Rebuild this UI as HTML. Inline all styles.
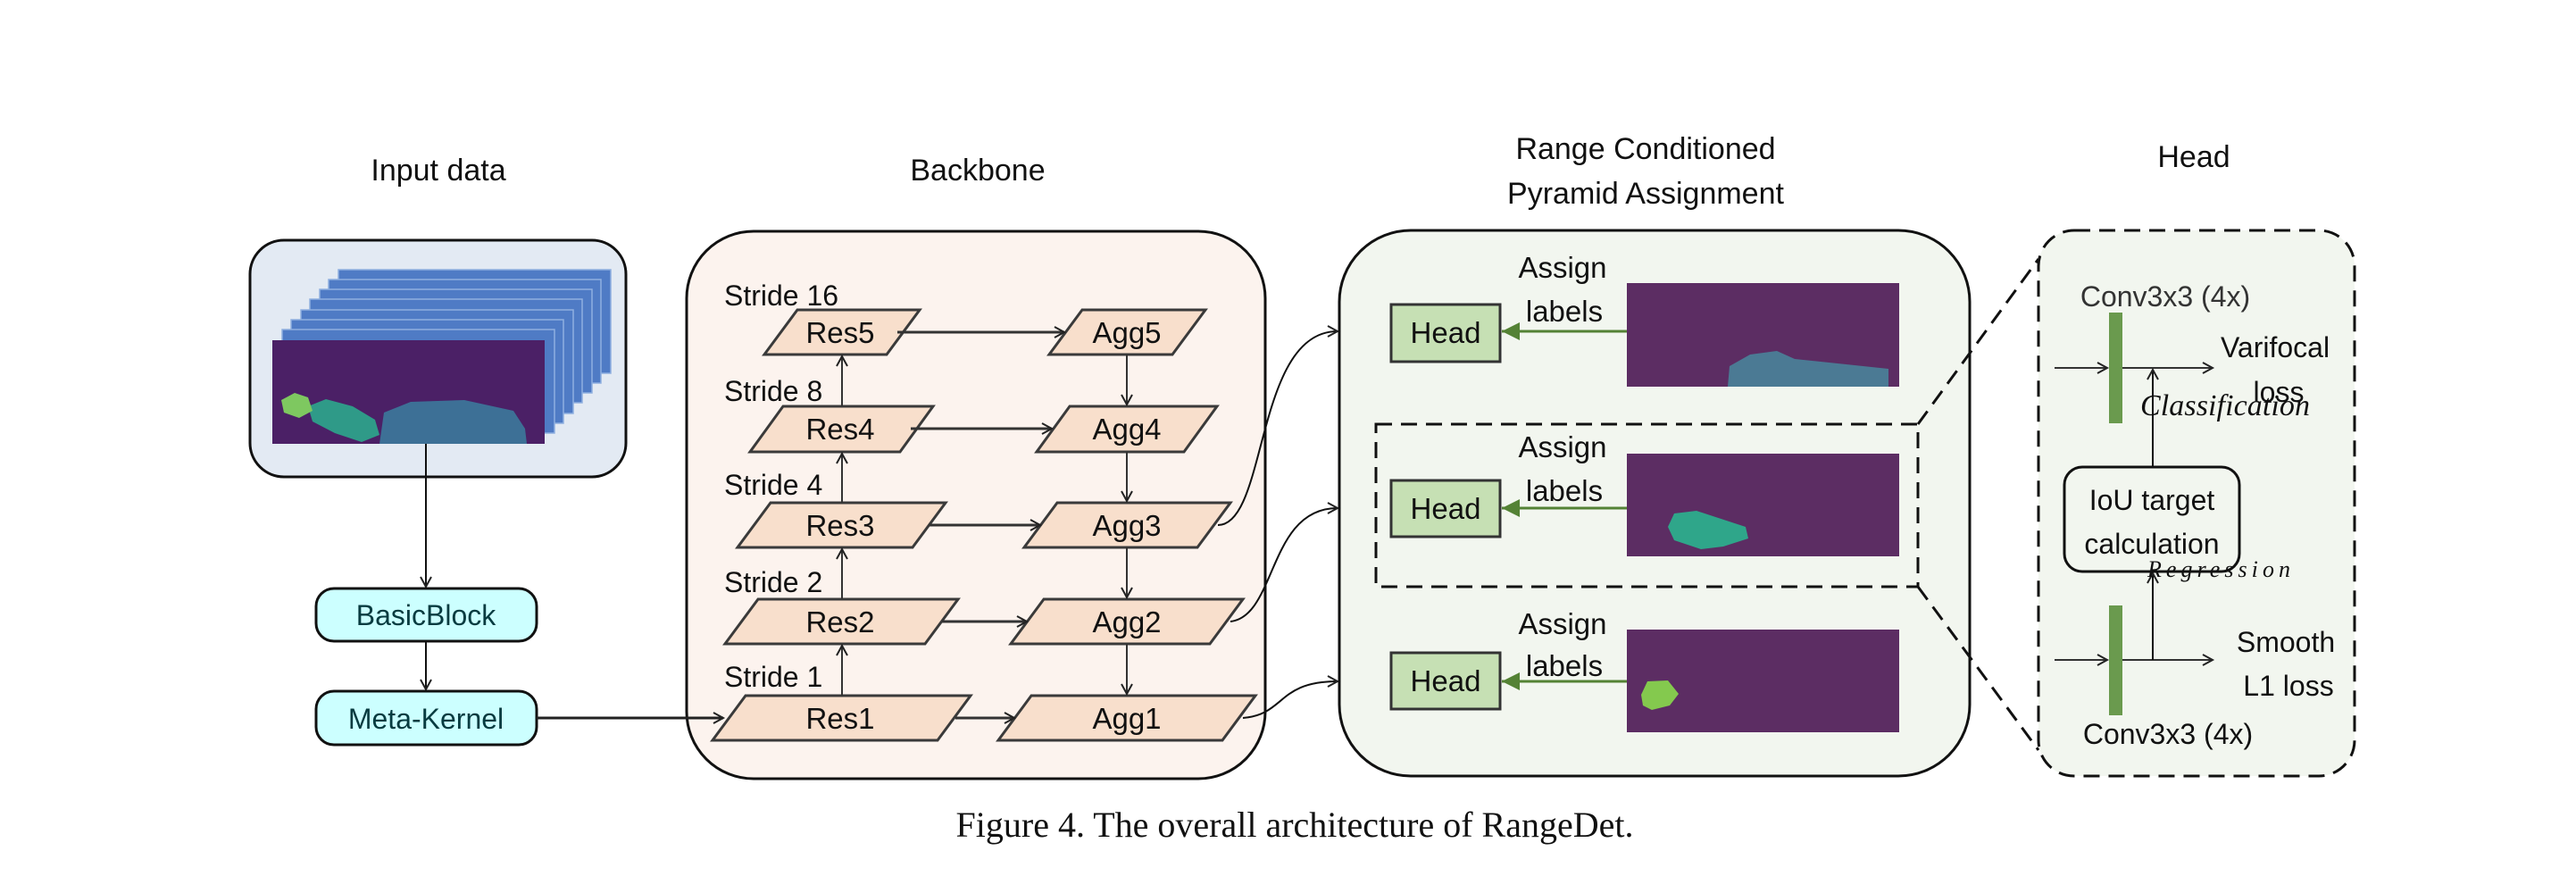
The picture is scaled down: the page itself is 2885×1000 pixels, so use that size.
<!DOCTYPE html>
<html><head><meta charset="utf-8"><style>
html,body{margin:0;padding:0;background:#fff;}
svg{display:block;}
text{font-family:"Liberation Sans",sans-serif;fill:#111;}
</style></head><body>
<svg width="2885" height="1000" viewBox="0 0 2885 1000" xmlns="http://www.w3.org/2000/svg">
<defs>
<marker id="ar" markerWidth="16" markerHeight="16" refX="13" refY="8" orient="auto" markerUnits="userSpaceOnUse">
<path d="M2,2 L13,8 L2,14" fill="none" stroke="#222" stroke-width="2"/>
</marker>
<marker id="ga" markerWidth="26" markerHeight="26" refX="22" refY="13" orient="auto" markerUnits="userSpaceOnUse">
<path d="M2,3 L22,13 L2,23 Z" fill="#548235"/>
</marker>
</defs>

<!-- Titles -->
<text x="491" y="202" font-size="34" text-anchor="middle">Input data</text>
<text x="1095" y="202" font-size="34" text-anchor="middle">Backbone</text>
<text x="1843" y="178" font-size="34" text-anchor="middle">Range Conditioned</text>
<text x="1843" y="228" font-size="34" text-anchor="middle">Pyramid Assignment</text>
<text x="2457" y="187" font-size="34" text-anchor="middle">Head</text>

<!-- Input box -->
<rect x="280" y="269" width="421" height="265" rx="38" fill="#e3eaf3" stroke="#111" stroke-width="3"/>
<g fill="#4f7bc5" stroke="#8fb0e0" stroke-width="1.5">
<rect x="379" y="302" width="305" height="116"/>
<rect x="368" y="313" width="305" height="116"/>
<rect x="358" y="324" width="305" height="116"/>
<rect x="347" y="335" width="305" height="116"/>
<rect x="337" y="347" width="305" height="116"/>
<rect x="326" y="358" width="305" height="116"/>
<rect x="316" y="369" width="305" height="116"/>
</g>
<rect x="305" y="381" width="305" height="116" fill="#4b2066"/>
<path d="M425,497 L430,462 L460,450 L520,448 L575,460 L588,480 L590,497 Z" fill="#3d7096"/>
<path d="M345,455 L365,447 L395,455 L420,470 L425,487 L405,495 L375,485 L350,472 Z" fill="#2f9a88"/>
<path d="M315,448 L330,440 L345,445 L350,460 L335,468 L318,462 Z" fill="#7ec860"/>
<line x1="477" y1="497" x2="477" y2="657" stroke="#111" stroke-width="2" marker-end="url(#ar)"/>

<!-- BasicBlock / Meta-Kernel -->
<rect x="354" y="659" width="247" height="59" rx="20" fill="#ccffff" stroke="#111" stroke-width="3"/>
<text x="477" y="700" font-size="32" text-anchor="middle" style="fill:#073b40">BasicBlock</text>
<line x1="477" y1="718" x2="477" y2="772" stroke="#111" stroke-width="2" marker-end="url(#ar)"/>
<rect x="354" y="774" width="247" height="60" rx="20" fill="#ccffff" stroke="#111" stroke-width="3"/>
<text x="477" y="816" font-size="32" text-anchor="middle" style="fill:#073b40">Meta-Kernel</text>

<!-- Backbone -->
<rect x="769" y="259" width="648" height="613" rx="75" fill="#fcf3ee" stroke="#111" stroke-width="3"/>
<line x1="601" y1="804" x2="810" y2="804" stroke="#222" stroke-width="3" marker-end="url(#ar)"/>
<g font-size="32">
<text x="811" y="342">Stride 16</text>
<text x="811" y="449">Stride 8</text>
<text x="811" y="554">Stride 4</text>
<text x="811" y="663">Stride 2</text>
<text x="811" y="769">Stride 1</text>
</g>
<g fill="#f8dfcc" stroke="#3a3a3a" stroke-width="3">
<polygon points="893,347 1030,347 993,397 856,397"/>
<polygon points="877,455 1045,455 1008,506 840,506"/>
<polygon points="863,563 1059,563 1022,613 826,613"/>
<polygon points="849,671 1073,671 1036,721 812,721"/>
<polygon points="835,779 1087,779 1050,829 798,829"/>
<polygon points="1212,347 1350,347 1313,397 1175,397"/>
<polygon points="1198,455 1363,455 1326,506 1161,506"/>
<polygon points="1184,563 1378,563 1341,613 1147,613"/>
<polygon points="1169,671 1392,671 1355,721 1132,721"/>
<polygon points="1155,779 1406,779 1369,829 1118,829"/>
</g>
<g font-size="33" text-anchor="middle">
<text x="941" y="384">Res5</text>
<text x="941" y="492">Res4</text>
<text x="941" y="600">Res3</text>
<text x="941" y="708">Res2</text>
<text x="941" y="816">Res1</text>
<text x="1262" y="384">Agg5</text>
<text x="1262" y="492">Agg4</text>
<text x="1262" y="600">Agg3</text>
<text x="1262" y="708">Agg2</text>
<text x="1262" y="816">Agg1</text>
</g>
<g stroke="#333" stroke-width="2" fill="none" marker-end="url(#ar)">
<line x1="943" y1="779" x2="943" y2="723"/>
<line x1="943" y1="671" x2="943" y2="615"/>
<line x1="943" y1="563" x2="943" y2="508"/>
<line x1="943" y1="455" x2="943" y2="399"/>
<line x1="1262" y1="397" x2="1262" y2="453"/>
<line x1="1262" y1="506" x2="1262" y2="561"/>
<line x1="1262" y1="613" x2="1262" y2="669"/>
<line x1="1262" y1="721" x2="1262" y2="777"/>
</g>
<g stroke="#333" stroke-width="3" fill="none" marker-end="url(#ar)">
<line x1="1005" y1="372" x2="1192" y2="372"/>
<line x1="1020" y1="480" x2="1178" y2="480"/>
<line x1="1040" y1="588" x2="1165" y2="588"/>
<line x1="1055" y1="696" x2="1150" y2="696"/>
<line x1="1070" y1="804" x2="1136" y2="804"/>
</g>
<g stroke="#111" stroke-width="2" fill="none" marker-end="url(#ar)">
<path d="M1364,588 C1420,588 1405,371 1498,371"/>
<path d="M1378,696 C1430,690 1420,569 1498,569"/>
<path d="M1392,804 C1440,800 1430,763 1498,763"/>
</g>

<!-- RCPA -->
<rect x="1500" y="258" width="706" height="611" rx="80" fill="#f2f6ef" stroke="#111" stroke-width="3"/>
<rect x="1541" y="475" width="607" height="182" fill="none" stroke="#111" stroke-width="3" stroke-dasharray="18,10"/>
<g font-size="33" text-anchor="middle">
<text x="1750" y="311">Assign</text><text x="1752" y="360">labels</text>
<text x="1750" y="512">Assign</text><text x="1752" y="561">labels</text>
<text x="1750" y="710">Assign</text><text x="1752" y="757">labels</text>
</g>
<g fill="#c6e0b4" stroke="#333" stroke-width="3">
<rect x="1558" y="341" width="122" height="64"/>
<rect x="1558" y="538" width="122" height="63"/>
<rect x="1558" y="731" width="122" height="63"/>
</g>
<g font-size="33" text-anchor="middle">
<text x="1619" y="384">Head</text><text x="1619" y="581">Head</text><text x="1619" y="774">Head</text>
</g>
<g stroke="#548235" stroke-width="3" marker-end="url(#ga)">
<line x1="1822" y1="371" x2="1682" y2="371"/>
<line x1="1822" y1="569" x2="1682" y2="569"/>
<line x1="1822" y1="763" x2="1682" y2="763"/>
</g>
<g fill="#5c2d63">
<rect x="1822" y="317" width="305" height="116"/>
<rect x="1822" y="508" width="305" height="115"/>
<rect x="1822" y="705" width="305" height="115"/>
</g>
<path d="M1935,433 L1937,410 L1960,397 L1990,393 L2010,402 L2115,413 L2115,433 Z" fill="#4b7a94"/>
<path d="M1868,590 L1875,575 L1900,572 L1955,590 L1958,603 L1930,612 L1905,615 L1875,605 Z" fill="#2fa68a"/>
<path d="M1838,778 L1845,763 L1868,762 L1880,777 L1870,790 L1850,795 L1840,790 Z" fill="#84c94e"/>

<!-- zoom lines -->
<g stroke="#111" stroke-width="3" stroke-dasharray="18,10" fill="none">
<line x1="2148" y1="475" x2="2283" y2="290"/>
<line x1="2148" y1="657" x2="2283" y2="840"/>
</g>

<!-- Head detail -->
<rect x="2283" y="258" width="354" height="611" rx="40" fill="#f2f6ef" stroke="#111" stroke-width="3" stroke-dasharray="18,10"/>
<text x="2425" y="343" font-size="32" text-anchor="middle" style="fill:#333">Conv3x3 (4x)</text>
<text x="2428" y="833" font-size="32" text-anchor="middle">Conv3x3 (4x)</text>
<rect x="2362" y="350" width="15" height="124" fill="#6a9a4e"/>
<rect x="2362" y="678" width="15" height="123" fill="#6a9a4e"/>
<g stroke="#333" stroke-width="2" fill="none">
<line x1="2301" y1="412" x2="2360" y2="412" marker-end="url(#ar)"/>
<line x1="2377" y1="412" x2="2478" y2="412" marker-end="url(#ar)"/>
<line x1="2301" y1="739" x2="2360" y2="739" marker-end="url(#ar)"/>
<line x1="2377" y1="739" x2="2478" y2="739" marker-end="url(#ar)"/>
<line x1="2411" y1="523" x2="2411" y2="414" marker-end="url(#ar)" stroke="#111"/>
<line x1="2411" y1="739" x2="2411" y2="642" marker-end="url(#ar)" stroke="#111"/>
</g>
<rect x="2312" y="523" width="196" height="117" rx="20" fill="#f2f6ef" stroke="#111" stroke-width="3"/>
<text x="2410" y="571" font-size="32" text-anchor="middle">IoU target</text>
<text x="2410" y="620" font-size="32" text-anchor="middle">calculation</text>
<text x="2548" y="400" font-size="32" text-anchor="middle">Varifocal</text>
<text x="2552" y="450" font-size="32" text-anchor="middle">loss</text>
<text x="2560" y="730" font-size="32" text-anchor="middle">Smooth</text>
<text x="2563" y="779" font-size="32" text-anchor="middle">L1 loss</text>
<text x="2397" y="465" font-size="34" font-style="italic" style="font-family:'Liberation Serif',serif" textLength="190">Classification</text>
<text x="2405" y="646" font-size="26" font-style="italic" style="font-family:'Liberation Serif',serif" textLength="160">Regression</text>

<!-- caption -->
<text x="1450" y="937" font-size="40" text-anchor="middle" style="font-family:'Liberation Serif',serif">Figure 4. The overall architecture of RangeDet.</text>
</svg>
</body></html>
